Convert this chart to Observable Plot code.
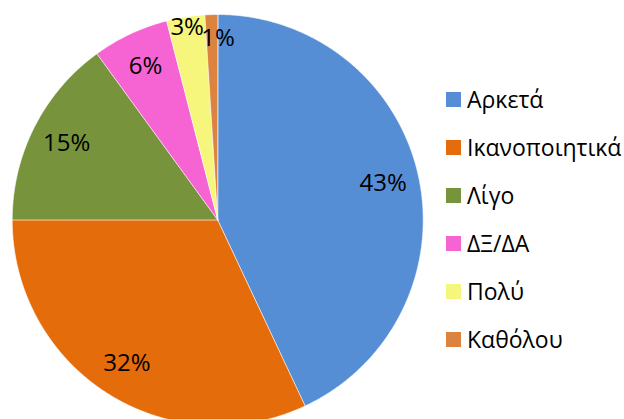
<!DOCTYPE html>
<html>
<head>
<meta charset="utf-8">
<script src="https://cdn.jsdelivr.net/npm/d3@7"></script>
<script src="https://cdn.jsdelivr.net/npm/@observablehq/plot@0.6"></script>
<style>
  html, body { margin: 0; padding: 0; background: #fff; overflow: hidden; }
  #wrap { position: relative; width: 624px; height: 419px; font-family: "Open Sans", "Noto Sans", sans-serif; }
  #legend { position: absolute; left: 446px; top: 75px; }
  .row { display: flex; align-items: center; height: 48px; font-size: 23px; color: #000; }
  .sw { width: 15px; height: 15px; margin-right: 6px; flex: none; }
</style>
</head>
<body>
<div id="wrap"><div id="chart"></div><div id="legend"></div></div>
<script>
const categories = ["Αρκετά", "Ικανοποιητικά", "Λίγο", "ΔΞ/ΔΑ", "Πολύ", "Καθόλου"];
const values = [43, 32, 15, 6, 3, 1];
const colors = ["#558ED5", "#E46C0A", "#77933C", "#F564D2", "#F6F67C", "#DC843F"];

const table = categories.map((c, i) => ({category: c, value: values[i], label: values[i] + "%"}));
const arcs = d3.pie().sort(null).value(d => d.value)(table);

// polygon points for each slice on the unit circle (angle 0 = 12 o'clock, clockwise)
const pts = [];
for (const a of arcs) {
  const n = Math.max(2, Math.ceil((a.endAngle - a.startAngle) / 0.01));
  pts.push({category: a.data.category, x: 0, y: 0});
  for (let k = 0; k <= n; k++) {
    const t = a.startAngle + (a.endAngle - a.startAngle) * k / n;
    pts.push({category: a.data.category, x: Math.sin(t), y: Math.cos(t)});
  }
}
// best-fit style label radius: small slices pushed toward the rim
const labelPts = arcs.map(a => {
  const m = (a.startAngle + a.endAngle) / 2;
  const v = a.data.value;
  const r = v < 2 ? 0.885 : v < 5 ? 0.95 : 0.825;
  return {label: a.data.label, x: r * Math.sin(m), y: r * Math.cos(m), small: v < 2};
});

const chart = Plot.plot({
  width: 624,
  height: 419,
  margin: 0,
  x: {domain: [-1, 1], range: [11.7, 422.7], axis: null},
  y: {domain: [-1, 1], range: [425, 14], axis: null},
  color: {domain: categories, range: colors},
  style: {fontFamily: "'Open Sans', 'Noto Sans', sans-serif", background: "#fff"},
  marks: [
    Plot.line(pts, {x: "x", y: "y", z: "category", fill: "category", stroke: "white", strokeWidth: 0.6, curve: "linear-closed"}),
    Plot.text(labelPts.filter(d => !d.small), {x: "x", y: "y", text: "label", fontSize: 24, fill: "#000"}),
    Plot.text(labelPts.filter(d => d.small), {x: "x", y: "y", text: "label", fontSize: 24, fill: "#000", dx: 6})
  ]
});
document.getElementById("chart").appendChild(chart);

const legend = document.getElementById("legend");
categories.forEach((c, i) => {
  const row = document.createElement("div");
  row.className = "row";
  const sw = document.createElement("div");
  sw.className = "sw";
  sw.style.background = colors[i];
  const tx = document.createElement("span");
  tx.textContent = c;
  row.appendChild(sw);
  row.appendChild(tx);
  legend.appendChild(row);
});
</script>
</body>
</html>
